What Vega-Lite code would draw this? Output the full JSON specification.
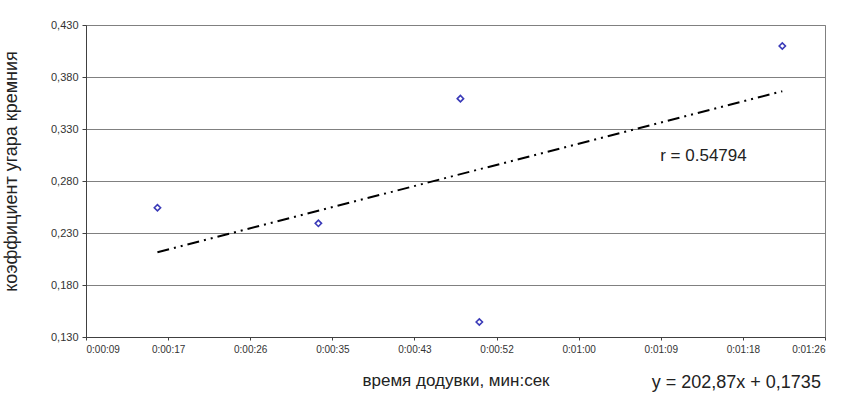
{
  "$schema": "https://vega.github.io/schema/vega-lite/v6.json",
  "width": 739,
  "height": 312,
  "autosize": "none",
  "padding": {"left": 86, "top": 25, "right": 34, "bottom": 72},
  "background": "white",
  "config": {
    "font": "Liberation Sans",
    "view": {"stroke": "#808080", "strokeWidth": 1}
  },
  "datasets": {
    "pts": [
      {"t": 0.000187, "k": 0.2543},
      {"t": 0.000383, "k": 0.2393},
      {"t": 0.000556, "k": 0.3592},
      {"t": 0.000579, "k": 0.1444},
      {"t": 0.000948, "k": 0.4098}
    ],
    "notes": [
      {"t": 0.000852, "k": 0.304, "label": "r = 0.54794", "sz": 17},
      {"t": 0.000892, "k": 0.0855, "label": "y = 202,87x + 0,1735", "sz": 18}
    ]
  },
  "encoding": {
    "x": {
      "field": "t",
      "type": "quantitative",
      "scale": {"domain": [0.0001, 0.001], "nice": false, "zero": false},
      "axis": {
        "values": [0.0001, 0.0002, 0.0003, 0.0004, 0.0005, 0.0006, 0.0007, 0.0008, 0.0009, 0.001],
        "labelExpr": "floor(round(datum.value*86400)/3600) + ':' + format(floor(round(datum.value*86400)/60)%60, '02d') + ':' + format(round(datum.value*86400)%60, '02d')",
        "grid": false,
        "domainColor": "#404040",
        "tickColor": "#404040",
        "tickSize": 3,
        "labelFontSize": 10,
        "labelColor": "#333333",
        "labelPadding": 4,
        "title": "время додувки, мин:сек",
        "titleFontSize": 17,
        "titleFontWeight": "normal",
        "titleColor": "#222222",
        "titlePadding": 18
      }
    },
    "y": {
      "field": "k",
      "type": "quantitative",
      "scale": {"domain": [0.13, 0.43], "nice": false, "zero": false},
      "axis": {
        "values": [0.13, 0.18, 0.23, 0.28, 0.33, 0.38, 0.43],
        "labelExpr": "replace(format(datum.value, '.3f'), '.', ',')",
        "grid": true,
        "gridColor": "#808080",
        "gridWidth": 1,
        "domainColor": "#404040",
        "tickColor": "#404040",
        "tickSize": 4,
        "labelFontSize": 11,
        "labelColor": "#333333",
        "labelPadding": 4,
        "title": "коэффициент угара кремния",
        "titleFontSize": 18,
        "titleFontWeight": "normal",
        "titleColor": "#222222",
        "titleX": -66,
        "titleY": 146
      }
    }
  },
  "layer": [
    {
      "data": {"name": "pts"},
      "transform": [{"regression": "k", "on": "t"}],
      "mark": {"type": "line", "color": "black", "strokeWidth": 2, "strokeDash": [12, 5, 2, 5, 2, 5]},
      "encoding": {}
    },
    {
      "data": {"name": "pts"},
      "mark": {"type": "point", "shape": "diamond", "filled": false, "color": "#3a3ab8", "size": 40, "strokeWidth": 1.6, "opacity": 1},
      "encoding": {}
    },
    {
      "data": {"name": "notes"},
      "mark": {"type": "text", "color": "#222222", "align": "center", "baseline": "middle"},
      "encoding": {
        "text": {"field": "label"},
        "size": {"field": "sz", "type": "quantitative", "scale": null}
      }
    }
  ]
}
